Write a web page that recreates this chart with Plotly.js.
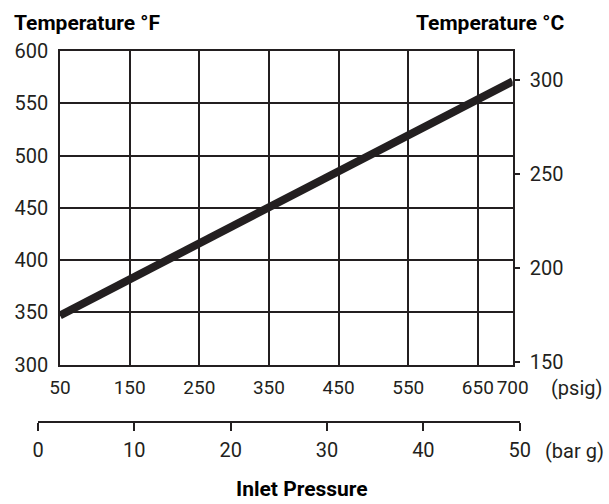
<!DOCTYPE html>
<html>
<head>
<meta charset="utf-8">
<script src="https://cdn.plot.ly/plotly-3.0.1.min.js"></script>
<style>html,body{margin:0;padding:0;background:#fff;}#chart{width:609px;height:504px;}</style>
</head>
<body>
<div id="chart"></div>
<script>
// Data
const pressurePsig = [50, 700];
const temperatureF = [347, 571];
const psigTicks = [50, 150, 250, 350, 450, 550, 650, 700];
const fTicks = [300, 350, 400, 450, 500, 550, 600];
const cTicks = [150, 200, 250, 300];
const barTicks = [0, 10, 20, 30, 40, 50];

const FONT = 'Roboto, "DejaVu Sans Condensed", sans-serif';
const INK = '#231f20';

const W = 609, H = 504, L = 38, R = 89, T = 51, B = 74;
const pw = W - L - R, ph = H - T - B;
const px = v => (v - L) / pw;
const py = v => (H - B - v) / ph;

const traces = [
  {x: pressurePsig, y: temperatureF, xaxis: 'x', yaxis: 'y', mode: 'lines',
   line: {color: INK, width: 8}, hoverinfo: 'skip', showlegend: false},
  {x: pressurePsig, y: temperatureF.map(f => (f - 32) / 1.8), xaxis: 'x', yaxis: 'y2', mode: 'lines',
   line: {color: 'rgba(0,0,0,0)', width: 0}, hoverinfo: 'skip', showlegend: false},
  {x: barTicks, y: barTicks.map(() => null), xaxis: 'x2', yaxis: 'y3', mode: 'markers',
   marker: {opacity: 0}, hoverinfo: 'skip', showlegend: false}
];

const tf = {family: FONT, size: 20, color: INK};

const layout = {
  width: W, height: H,
  margin: {l: L, r: R, t: T, b: B, pad: 0},
  paper_bgcolor: '#fff', plot_bgcolor: 'rgba(0,0,0,0)',
  font: {family: FONT, color: INK, size: 20},
  showlegend: false,
  xaxis: {
    domain: [px(60), px(512.7)], range: [50, 700], anchor: 'y',
    tickvals: psigTicks, ticktext: psigTicks.map(String), tickangle: 0,
    showgrid: true, gridcolor: INK, gridwidth: 1.5,
    showline: true, mirror: true, linecolor: INK, linewidth: 1.5,
    ticks: 'outside', ticklen: 5, tickcolor: 'rgba(0,0,0,0)', zeroline: false,
    tickfont: {family: FONT, size: 19, color: INK}
  },
  xaxis2: {
    domain: [px(37.7), px(519.7)], range: [0, 50], anchor: 'free', position: py(422),
    side: 'bottom', tickangle: 0,
    tickvals: barTicks, ticktext: barTicks.map(String),
    showgrid: false, showline: true, linecolor: INK, linewidth: 1.5,
    ticks: 'outside', ticklen: 8, tickwidth: 1.5, tickcolor: INK, zeroline: false,
    ticklabelstandoff: 2,
    tickfont: tf
  },
  yaxis: {
    domain: [py(364.5), 1], range: [300, 600], anchor: 'x',
    tickvals: fTicks, ticktext: fTicks.map(String),
    showgrid: true, gridcolor: INK, gridwidth: 1.5,
    showline: true, mirror: true, linecolor: INK, linewidth: 1.5,
    ticks: 'outside', ticklen: 6, tickcolor: 'rgba(0,0,0,0)', zeroline: false,
    tickfont: tf
  },
  yaxis2: {
    overlaying: 'y', side: 'right', anchor: 'x',
    range: [(300 - 32) / 1.8, (600 - 32) / 1.8],
    tickvals: cTicks, ticktext: cTicks.map(String),
    showgrid: false, showline: false, zeroline: false,
    ticks: 'outside', ticklen: 6, tickwidth: 1.5, tickcolor: INK,
    ticklabelstandoff: 6,
    tickfont: tf
  },
  yaxis3: {
    domain: [0, 0.02], anchor: 'x2', visible: false, showgrid: false, range: [0, 1]
  },
  annotations: [
    {text: 'Temperature °F', xref: 'paper', yref: 'paper', x: px(12), y: py(23),
     xanchor: 'left', yanchor: 'middle', showarrow: false,
     font: {family: FONT, size: 21, color: '#000', weight: 'bold'}},
    {text: 'Temperature °C', xref: 'paper', yref: 'paper', x: px(566), y: py(23),
     xanchor: 'right', yanchor: 'middle', showarrow: false,
     font: {family: FONT, size: 21, color: '#000', weight: 'bold'}},
    {text: '(psig)', xref: 'paper', yref: 'paper', x: px(604), y: py(388),
     xanchor: 'right', yanchor: 'middle', showarrow: false,
     font: tf},
    {text: '(bar g)', xref: 'paper', yref: 'paper', x: px(606), y: py(451),
     xanchor: 'right', yanchor: 'middle', showarrow: false,
     font: tf},
    {text: 'Inlet Pressure', xref: 'paper', yref: 'paper', x: px(302), y: py(489),
     xanchor: 'center', yanchor: 'middle', showarrow: false,
     font: {family: FONT, size: 21, color: '#000', weight: 'bold'}}
  ]
};

Plotly.newPlot('chart', traces, layout, {displayModeBar: false});
</script>
</body>
</html>
